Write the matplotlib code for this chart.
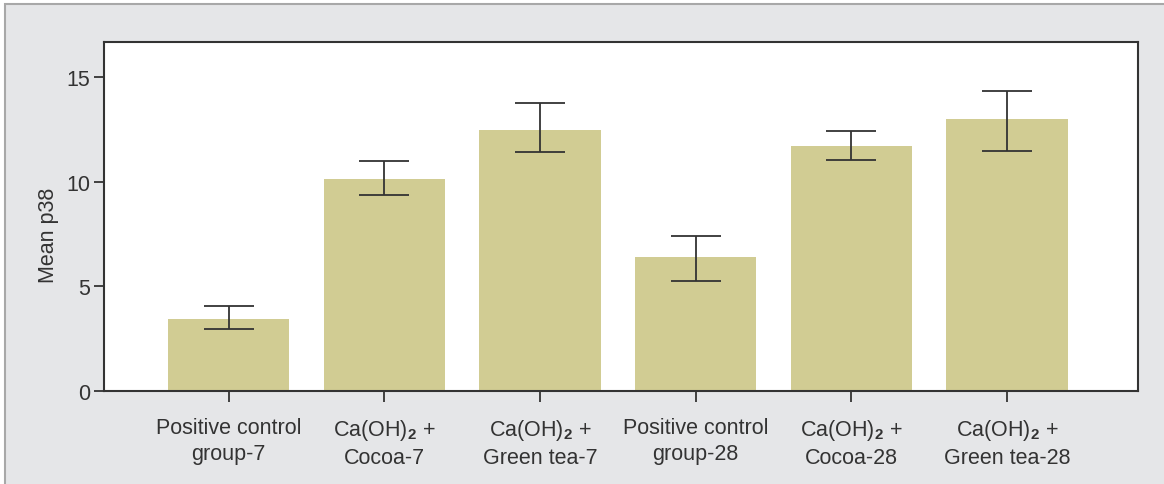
import matplotlib
matplotlib.use("Agg")
import matplotlib.pyplot as plt
from matplotlib.patches import Rectangle

plt.rcParams['font.family'] = ['Liberation Sans', 'DejaVu Sans']
plt.rcParams['mathtext.fontset'] = 'custom'
plt.rcParams['mathtext.rm'] = 'Liberation Sans'
plt.rcParams['mathtext.bf'] = 'Liberation Sans:bold'

groups = [
    "Positive control\ngroup-7",
    "Ca(OH)$_\\mathbf{2}$ +\nCocoa-7",
    "Ca(OH)$_\\mathbf{2}$ +\nGreen tea-7",
    "Positive control\ngroup-28",
    "Ca(OH)$_\\mathbf{2}$ +\nCocoa-28",
    "Ca(OH)$_\\mathbf{2}$ +\nGreen tea-28",
]
mean_p38 = [3.43, 10.14, 12.46, 6.38, 11.68, 13.01]
err_low = [2.95, 9.38, 11.43, 5.24, 11.05, 11.48]
err_high = [4.05, 11.00, 13.75, 7.38, 12.44, 14.33]

bar_color = '#d1cc93'
panel_bg = '#e5e6e8'
ink = '#333333'

fig = plt.figure(figsize=(11.64, 4.85), dpi=100, facecolor='white')
# grey panel behind the plot with a thin rule on top and left
panel = Rectangle((5 / 1164, -0.01), 1.1, 480 / 485 + 0.01,
                  transform=fig.transFigure, facecolor=panel_bg,
                  edgecolor='#a8a8a8', linewidth=1.5, zorder=-10)
fig.patches.append(panel)

ax = fig.add_axes([104 / 1164, 1 - 392 / 485, (1138 - 104) / 1164, (392 - 43) / 485])
ax.set_facecolor('white')

x = list(range(len(groups)))
yerr = [[m - lo for m, lo in zip(mean_p38, err_low)],
        [hi - m for m, hi in zip(mean_p38, err_high)]]
ax.bar(x, mean_p38, width=0.78, color=bar_color, edgecolor='none', zorder=2)
ax.errorbar(x, mean_p38, yerr=yerr, fmt='none', ecolor=ink, elinewidth=1.3,
            capsize=18, capthick=1.3, zorder=3)

ax.set_xlim(-0.8, 5.84)
ax.set_ylim(0, 16.67)
ax.set_yticks([0, 5, 10, 15])
ax.set_xticks(x)
ax.set_xticklabels(groups, fontsize=15.5, color=ink, linespacing=1.3)
ax.tick_params(axis='y', labelsize=15.5, labelcolor=ink, color=ink, length=7, width=1.3, pad=3)
ax.tick_params(axis='x', color=ink, length=8, width=1.3, pad=11)
for s in ax.spines.values():
    s.set_color(ink)
    s.set_linewidth(1.5)

ax.set_ylabel("Mean p38", fontsize=15.5, color=ink)
ax.yaxis.set_label_coords(-0.044, 0.45)

fig.savefig("out.png", dpi=100, facecolor=fig.get_facecolor())
